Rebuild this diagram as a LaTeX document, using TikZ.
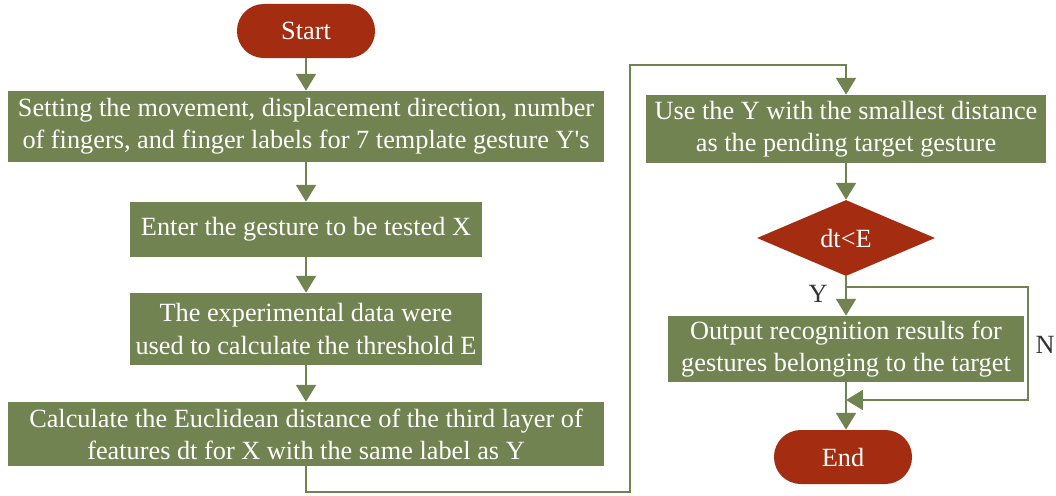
\documentclass[tikz,border=0pt]{standalone}
\usepackage{fontspec}
\setmainfont{Liberation Serif}
\usetikzlibrary{arrows.meta,shapes.geometric}
\definecolor{boxgreen}{RGB}{113,131,80}
\definecolor{termred}{RGB}{164,44,16}
\tikzset{
  process/.style={rectangle,fill=boxgreen,text=white,align=center,inner sep=0pt,
    font=\fontsize{18.7}{22.8}\selectfont},
  terminal/.style={rectangle,rounded corners=0.67cm,fill=termred,text=white,
    minimum width=3.45cm,minimum height=1.35cm,inner sep=0pt,font=\fontsize{18.7}{22.8}\selectfont},
  decision/.style={diamond,fill=termred,text=white,inner sep=0pt,
    minimum width=4.45cm,minimum height=1.9cm,font=\fontsize{18.7}{22.8}\selectfont},
  flow/.style={draw=boxgreen,line width=2pt,-{Triangle[width=14pt,length=12pt]}},
  yn/.style={text=black!80,font=\fontsize{18.7}{22.8}\selectfont}
}
\begin{document}
\begin{tikzpicture}[x=0.025cm,y=-0.025cm]
\useasboundingbox (0,0) rectangle (1056,495);

% left column
\node[terminal] (start) at (306,31) {Start};
\node[process,minimum width=14.9cm,minimum height=1.775cm] (setting) at (306,126.5)
  {Setting the movement, displacement direction, number\\of fingers, and finger labels for 7 template gesture Y\textquotesingle s};
\node[process,minimum width=8.8cm,minimum height=1.375cm] (enter) at (306,229.5)
  {Enter the gesture to be tested X};
\node[process,minimum width=8.8cm,minimum height=1.8cm] (threshold) at (306,329)
  {The experimental data were\\used to calculate the threshold E};
\node[process,minimum width=14.9cm,minimum height=1.6cm] (distance) at (306,434)
  {Calculate the Euclidean distance of the third layer of\\features dt for X with the same label as Y};

% right column
\node[process,minimum width=10cm,minimum height=1.7cm] (smallest) at (846,129)
  {Use the Y with the smallest distance\\as the pending target gesture};
\node[decision] (cmp) at (846,238) {dt<E};
\node[process,minimum width=8.9cm,minimum height=1.65cm] (output) at (846,349)
  {Output recognition results for\\gestures belonging to the target};
\node[terminal] (stop) at (843,457) {End};

\coordinate (bendA) at (630,492);
\coordinate (bendB) at (630,65);
\coordinate (split) at (846,287);
\coordinate (nright) at (1028,287);
\coordinate (join) at (846,400);

\draw[flow] (start) -- (setting);
\draw[flow] (setting) -- (enter);
\draw[flow] (enter) -- (threshold);
\draw[flow] (threshold) -- (distance);
\draw[flow] (distance.south) |- (bendA) -- (bendB) -| (smallest.north);
\draw[flow] (smallest) -- (cmp);
\draw[flow] (cmp) -- (output);
\draw[flow] (split) -- (nright) |- (join);
\draw[flow] (output.south) -- (output.south |- stop.north);

\node[yn] (ylab) at (818,294) {Y};
\node[yn] (nlab) at (1045,345) {N};
\end{tikzpicture}
\end{document}
